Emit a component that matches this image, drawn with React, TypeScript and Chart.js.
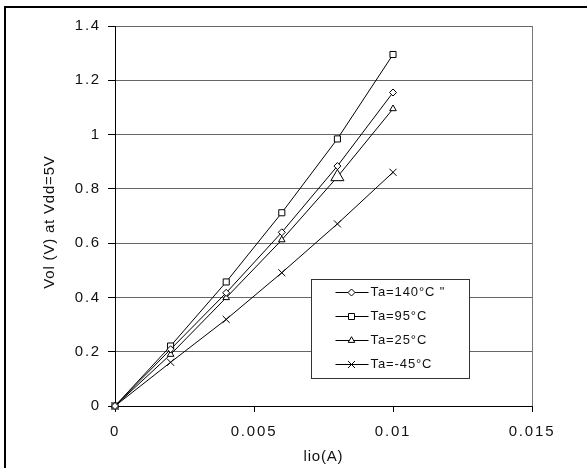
import React, { useEffect, useRef } from 'react';
import { Chart, registerables } from 'chart.js';

Chart.register(...registerables);

// ---- data ----
const currents = [0, 0.002, 0.004, 0.006, 0.008, 0.01];
const seriesLabels = ['Ta=140°C "', 'Ta=95°C', 'Ta=25°C', 'Ta=-45°C'];
const vol140 = [0, 0.209, 0.417, 0.64, 0.884, 1.155];
const vol95 = [0, 0.221, 0.457, 0.712, 0.984, 1.295];
const vol25 = [0, 0.19, 0.399, 0.612, 0.844, 1.095];
const volM45 = [0, 0.161, 0.319, 0.491, 0.671, 0.861];
const yTicks = [0, 0.2, 0.4, 0.6, 0.8, 1, 1.2, 1.4];
const xTicks = [0, 0.005, 0.01, 0.015];
const xTitle = 'lio(A)';
const yTitle = 'Vol (V) at Vdd=5V';

const FONT = '"Liberation Sans", Arial, sans-serif';
const styles = ['rectRot', 'rect', 'triangle', 'crossRot'];
const radii = [
  [3.5, 3.5, 3.5, 3.5, 3.5, 3.5],
  [4.3, 4.3, 4.3, 4.3, 4.3, 4.3],
  [3.8, 3.8, 3.8, 3.8, 7.5, 3.8],
  [5, 5, 5, 5, 5, 5],
];
const seriesValues = [vol140, vol95, vol25, volM45];

function drawMarker(ctx: CanvasRenderingContext2D, style: string, x: number, y: number) {
  ctx.beginPath();
  if (style === 'rectRot') {
    const r = 3.5;
    ctx.moveTo(x, y - r); ctx.lineTo(x + r, y); ctx.lineTo(x, y + r); ctx.lineTo(x - r, y); ctx.closePath();
    ctx.fill(); ctx.stroke();
  } else if (style === 'rect') {
    const s = 3;
    ctx.rect(x - s, y - s, 2 * s, 2 * s);
    ctx.fill(); ctx.stroke();
  } else if (style === 'triangle') {
    const r = 3.8;
    ctx.moveTo(x, y - r);
    ctx.lineTo(x + r * Math.cos(Math.PI / 6), y + r * 0.5);
    ctx.lineTo(x - r * Math.cos(Math.PI / 6), y + r * 0.5);
    ctx.closePath();
    ctx.fill(); ctx.stroke();
  } else {
    const r = 3.5;
    ctx.moveTo(x - r, y - r); ctx.lineTo(x + r, y + r);
    ctx.moveTo(x + r, y - r); ctx.lineTo(x - r, y + r);
    ctx.stroke();
  }
}

const decor = {
  id: 'decor',
  beforeDraw(chart: any) {
    (chart.ctx as any).letterSpacing = '1.8px';
  },
  afterDraw(chart: any) {
    const ctx: CanvasRenderingContext2D = chart.ctx;
    const a = chart.chartArea;
    ctx.save();
    // right border of plot area
    ctx.strokeStyle = '#777';
    ctx.lineWidth = 1;
    const rx = Math.round(a.right) + 0.5;
    ctx.beginPath();
    ctx.moveTo(rx, a.top);
    ctx.lineTo(rx, a.bottom);
    ctx.stroke();

    // axis titles
    (ctx as any).letterSpacing = '0.8px';
    ctx.fillStyle = '#111';
    ctx.font = `15px ${FONT}`;
    ctx.textAlign = 'center';
    ctx.textBaseline = 'middle';
    ctx.fillText(xTitle, (a.left + a.right) / 2, chart.height - 11);
    ctx.save();
    ctx.translate(50, (a.top + a.bottom) / 2 + 6);
    ctx.rotate(-Math.PI / 2);
    ctx.fillText(yTitle, 0, 0);
    ctx.restore();

    // legend
    const lx = Math.round(a.left + 196) + 0.5;
    const ly = Math.round(a.top + 253) + 0.5;
    const lw = 158;
    const lh = 99;
    ctx.fillStyle = '#fff';
    ctx.fillRect(lx, ly, lw, lh);
    ctx.strokeStyle = '#333';
    ctx.strokeRect(lx, ly, lw, lh);
    ctx.font = `13px ${FONT}`;
    (ctx as any).letterSpacing = '0.9px';
    ctx.textAlign = 'left';
    seriesLabels.forEach((lab, i) => {
      const y = ly + 13 + i * 24;
      ctx.strokeStyle = '#000';
      ctx.lineWidth = 1;
      ctx.beginPath();
      ctx.moveTo(lx + 24, y);
      ctx.lineTo(lx + 57, y);
      ctx.stroke();
      ctx.fillStyle = '#fff';
      drawMarker(ctx, styles[i], lx + 40, y);
      ctx.fillStyle = '#111';
      ctx.fillText(lab, lx + 59, y);
    });
    ctx.restore();
  },
};

export default function App() {
  const ref = useRef<HTMLCanvasElement>(null);
  useEffect(() => {
    const datasets = seriesLabels.map((lab, i) => ({
      label: lab,
      data: currents.map((x, j) => ({ x, y: seriesValues[i][j] })),
      showLine: true,
      borderColor: '#000',
      borderWidth: 1,
      pointStyle: styles[i] as any,
      pointRadius: radii[i],
      pointBackgroundColor: '#fff',
      pointBorderColor: '#000',
      pointBorderWidth: 1,
      fill: false,
      tension: 0,
      clip: false as any,
    }));
    const chart = new Chart(ref.current!, {
      type: 'scatter',
      data: { datasets },
      plugins: [decor],
      options: {
        animation: false,
        responsive: false,
        devicePixelRatio: 1,
        layout: { padding: { left: 0, top: 26, right: 55, bottom: 0 } },
        plugins: { legend: { display: false }, tooltip: { enabled: false } },
        scales: {
          x: {
            type: 'linear',
            min: 0,
            max: 0.015,
            afterBuildTicks: (s: any) => { s.ticks = xTicks.map((v) => ({ value: v })); },
            afterFit: (s: any) => { s.height = 62; },
            ticks: {
              color: '#111',
              font: { family: FONT, size: 15 },
              padding: 11,
              maxRotation: 0,
              callback: (v: any) => String(v),
            },
            grid: { display: true, drawOnChartArea: false, drawTicks: true, tickLength: 6, tickColor: '#000', color: '#000' },
            border: { display: true, color: '#000', width: 1 },
          },
          y: {
            type: 'linear',
            min: 0,
            max: 1.4,
            afterBuildTicks: (s: any) => { s.ticks = yTicks.map((v) => ({ value: v })); },
            afterFit: (s: any) => { s.width = 115; },
            ticks: {
              color: '#111',
              font: { family: FONT, size: 15 },
              padding: 7,
              callback: (v: any) => String(v),
            },
            grid: { color: '#666', lineWidth: 1, tickLength: 7, tickColor: '#000' },
            border: { display: true, color: '#000', width: 1 },
          },
        },
      },
    });
    return () => chart.destroy();
  }, []);
  return (
    <div style={{ position: 'fixed', left: 0, top: 0, width: 587, height: 468, background: '#fff', overflow: 'hidden' }}>
      <canvas ref={ref} width={587} height={468} style={{ position: 'absolute', left: 0, top: 0, width: 587, height: 468 }} />
      <div style={{ position: 'absolute', left: 4, top: 6, width: 620, height: 520, borderTop: '2px solid #000', borderLeft: '2px solid #000', pointerEvents: 'none' }} />
    </div>
  );
}
